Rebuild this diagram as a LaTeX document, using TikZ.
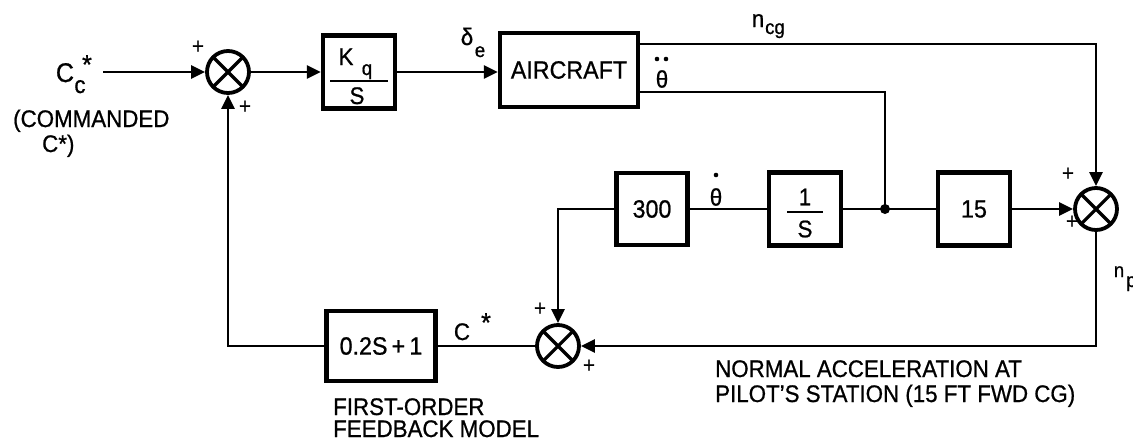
\documentclass[tikz,border=0pt]{standalone}
\usepackage{fontspec}
\setmainfont{Liberation Sans}[FakeBold=0.8,FakeStretch=0.93]
\usetikzlibrary{arrows.meta}
\begin{document}
\begin{tikzpicture}[x=1pt,y=-1pt,
  wire/.style={line width=2.6pt},
  arr/.style={wire,-{Triangle[length=14pt,width=13pt]}},
  blk/.style={draw,line width=4.2pt,inner sep=0pt,font=\fontsize{25}{28}\selectfont},
  sumj/.style={circle,draw,line width=3.8pt,minimum size=42pt,inner sep=0pt,
    path picture={\draw[line width=3.2pt] (path picture bounding box.north west)--(path picture bounding box.south east) (path picture bounding box.north east)--(path picture bounding box.south west);}},
  txt/.style={inner sep=0pt,font=\fontsize{24}{27}\selectfont},
  sml/.style={inner sep=0pt,font=\fontsize{20}{23}\selectfont},
  pls/.style={inner sep=0pt,font=\fontsize{22}{24}\selectfont},
  jdot/.style={circle,fill,inner sep=0pt,minimum size=10pt}
]
\useasboundingbox (0,0) rectangle (1133,440);
% blocks and junctions
\node[sumj] (s1) at (228,72) {};
\node[sumj] (s2) at (1096,209) {};
\node[sumj] (s3) at (558,346) {};
\node[blk,minimum width=72pt,minimum height=73pt] (kq) at (359,72) {};
\node[blk,minimum width=138pt,minimum height=74pt] (ac) at (569,70) {AIRCRAFT};
\node[blk,minimum width=71pt,minimum height=72pt] (b300) at (652,209) {300};
\node[blk,minimum width=72pt,minimum height=73pt] (bint) at (805,209) {};
\node[blk,minimum width=72pt,minimum height=73pt] (b15) at (974,209) {15};
\node[blk,minimum width=109pt,minimum height=70pt] (bfb) at (381,346) {0.2S\,+\,1};
\node[jdot] (dot) at (885,209) {};
\coordinate (in) at (103,72);
\coordinate (ncg) at (1096,44);
\coordinate (thd) at (885,92);
\coordinate (tap) at (558,209);
% connectors
\draw[arr] (in) -- (s1.west);
\draw[arr] (s1.east) -- (kq.west);
\draw[arr] (kq.east) -- (kq.east -| ac.west);
\draw[arr] (ac.east |- ncg) -- (ncg) -- (s2.north);
\draw[wire] (ac.east |- thd) -- (thd) -- (dot.center);
\draw[wire] (bint.east) -- (b15.west);
\draw[arr] (b15.east) -- (s2.west);
\draw[wire] (b300.east) -- (bint.west);
\draw[arr] (b300.west) -- (tap) -- (s3.north);
\draw[arr] (s2.south) |- (s3.east);
\draw[wire] (s3.west) -- (bfb.east);
\draw[arr] (bfb.west) -| (s1.south);
% block contents
\node[txt,anchor=base] at (346,65) {K};
\node[sml,anchor=base] at (367,75) {q};
\draw[wire] ([xshift=-29pt,yshift=-9pt]kq.center) -- ([xshift=29pt,yshift=-9pt]kq.center);
\node[txt,anchor=base] at (357,104) {S};
\node[txt] at (805,197) {1};
\draw[wire] ([xshift=-18pt,yshift=-3pt]bint.center) -- ([xshift=18pt,yshift=-3pt]bint.center);
\node[txt] at (805,229) {S};
% signal labels
\node[txt,font=\fontsize{27}{30}\selectfont,anchor=base] at (65,82) {C};
\node[txt,font=\fontsize{24}{26}\selectfont,anchor=base] at (80,93) {c};
\node[txt,font=\fontsize{27}{28}\selectfont,anchor=north] at (87,55) {*};
\node[txt,anchor=base west] at (13,127) {(COMMANDED};
\node[txt,anchor=base west] at (42,152) {C*)};
\node[txt,anchor=base] at (467,45) {δ};
\node[sml,anchor=base] at (480,57) {e};
\node[txt] at (662,79) {θ};
\fill (657,59) circle (2.3pt) (666,59) circle (2.3pt);
\node[txt,anchor=base] at (758,27) {n};
\node[sml,anchor=base] at (775,34) {cg};
\node[txt] at (716,197) {θ};
\fill (716,175) circle (2.3pt);
\node[txt,anchor=base] at (462,340) {C};
\node[txt,font=\fontsize{27}{28}\selectfont,anchor=north] at (486,313) {*};
\node[txt,font=\fontsize{20}{22}\selectfont,anchor=base] at (1119,277) {n};
\node[sml,anchor=base west] at (1126,287) {p};
% signs
\node[pls] at (198,47) {+};
\node[pls] at (245,107) {+};
\node[pls] at (1068,174) {+};
\node[pls] at (1072,222) {+};
\node[pls] at (540,309) {+};
\node[pls] at (589,366) {+};
% captions
\node[txt,anchor=base west] at (715,377) {NORMAL ACCELERATION AT};
\node[txt,anchor=base west] at (715,402) {PILOT’S STATION (15 FT FWD CG)};
\node[txt,anchor=base west] at (333,415) {FIRST-ORDER};
\node[txt,anchor=base west] at (333,437) {FEEDBACK MODEL};
\end{tikzpicture}
\end{document}
